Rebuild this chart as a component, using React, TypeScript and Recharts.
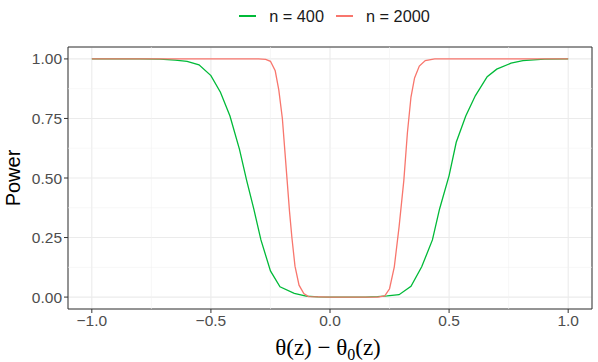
import {
  LineChart,
  Line,
  XAxis,
  YAxis,
  CartesianGrid,
  ReferenceLine,
  ReferenceArea,
  Label,
} from "recharts";

const xTicks = [-1, -0.5, 0, 0.5, 1];
const yTicks = [0, 0.25, 0.5, 0.75, 1];
const xMinor = [-0.75, -0.25, 0.25, 0.75];
const yMinor = [0.125, 0.375, 0.625, 0.875];

// n = 400
const x400 = [
  -1, -0.8, -0.714, -0.65, -0.6, -0.55, -0.5, -0.46, -0.42, -0.38, -0.35,
  -0.32, -0.29, -0.25, -0.21, -0.15, -0.1, -0.05, 0, 0.05, 0.1, 0.15, 0.2,
  0.24, 0.29, 0.34, 0.385, 0.43, 0.46, 0.5, 0.53, 0.57, 0.61, 0.66, 0.7,
  0.76, 0.81, 0.9, 1,
];
const power400 = [
  1, 1, 0.999, 0.995, 0.99, 0.975, 0.93, 0.86, 0.76, 0.62, 0.49, 0.37, 0.24,
  0.11, 0.043, 0.016, 0.004, 0.001, 0, 0, 0, 0, 0.002, 0.005, 0.01, 0.045,
  0.127, 0.24, 0.37, 0.51, 0.65, 0.76, 0.845, 0.925, 0.957, 0.982, 0.993,
  0.999, 1,
];

// n = 2000
const x2000 = [
  -1, -0.3, -0.27, -0.25, -0.23, -0.215, -0.2, -0.19, -0.18, -0.17, -0.16,
  -0.147, -0.13, -0.11, -0.09, 0, 0.2, 0.23, 0.25, 0.27, 0.29, 0.31, 0.325,
  0.34, 0.355, 0.375, 0.4, 0.44, 1,
];
const power2000 = [
  1, 1, 0.998, 0.99, 0.95, 0.87, 0.75, 0.62, 0.49, 0.36, 0.25, 0.13, 0.05,
  0.015, 0.002, 0, 0, 0.005, 0.035, 0.127, 0.295, 0.49, 0.69, 0.84, 0.92,
  0.97, 0.993, 1, 1,
];

const series = [
  { name: "n = 400", color: "#00BA38", xs: x400, ys: power400 },
  { name: "n = 2000", color: "#F8766D", xs: x2000, ys: power2000 },
];

const FONT = '"Liberation Sans", Arial, Helvetica, sans-serif';
const fmt = (v: number) => (v < 0 ? "\u2212" + Math.abs(v).toFixed(1) : v.toFixed(1));

function LegendRow() {
  return (
    <div
      style={{
        position: "absolute",
        left: 0,
        top: 5,
        width: 598,
        display: "flex",
        justifyContent: "center",
        paddingLeft: 83,
        boxSizing: "border-box",
        fontFamily: FONT,
        fontSize: 16.3,
        color: "#1A1A1A",
        lineHeight: "22px",
      }}
    >
      {series.map((s) => (
        <div key={s.name} style={{ display: "flex", alignItems: "center", marginRight: 12 }}>
          <div style={{ width: 17, height: 1.5, background: s.color, marginRight: 13, marginLeft: 0 }} />
          <span>{s.name}</span>
        </div>
      ))}
    </div>
  );
}

export default function App() {
  return (
    <div style={{ position: "absolute", left: 0, top: 0, width: 598, height: 362, background: "#fff" }}>
      <LegendRow />
      <LineChart
        width={598}
        height={362}
        margin={{ top: 47, right: 6, bottom: 0, left: 0 }}
        style={{ fontFamily: FONT }}
      >
        <CartesianGrid stroke="#EBEBEB" strokeWidth={1.1} />
        {xMinor.map((v) => (
          <ReferenceLine key={`xm${v}`} x={v} stroke="#F2F2F2" strokeWidth={0.6} />
        ))}
        {yMinor.map((v) => (
          <ReferenceLine key={`ym${v}`} y={v} stroke="#F2F2F2" strokeWidth={0.6} />
        ))}
        <XAxis
          dataKey="x"
          type="number"
          domain={[-1.1, 1.1]}
          ticks={xTicks}
          tickFormatter={fmt}
          allowDataOverflow
          axisLine={false}
          tickSize={4}
          tickMargin={2}
          tickLine={{ stroke: "#333333" }}
          tick={{ fill: "#4D4D4D", fontSize: 15.5 }}
          height={53}
        >
          <Label
            content={() => (
              <text
                x={328}
                y={355}
                textAnchor="middle"
                fontFamily='"Liberation Serif", "DejaVu Serif", serif'
                fontSize={23}
                fill="#000"
              >
                θ(z) − θ
                <tspan fontSize={16} dy={5}>0</tspan>
                <tspan dy={-5}>(z)</tspan>
              </text>
            )}
          />
        </XAxis>
        <YAxis
          type="number"
          domain={[-0.05, 1.05]}
          ticks={yTicks}
          tickFormatter={(v: number) => v.toFixed(2)}
          allowDataOverflow
          axisLine={false}
          tickSize={4}
          tickMargin={2}
          tickLine={{ stroke: "#333333" }}
          tick={{ fill: "#4D4D4D", fontSize: 15.5 }}
          width={68}
        >
          <Label
            content={() => (
              <text
                x={20}
                y={178}
                textAnchor="middle"
                transform="rotate(-90 20 178)"
                fontSize={20}
                fill="#000"
              >
                Power
              </text>
            )}
          />
        </YAxis>
        {series.map((s) => (
          <Line
            key={s.name}
            data={s.xs.map((x, i) => ({ x, power: s.ys[i] }))}
            dataKey="power"
            name={s.name}
            type="linear"
            stroke={s.color}
            strokeWidth={1.3}
            dot={false}
            activeDot={false}
            isAnimationActive={false}
          />
        ))}
        <ReferenceArea
          x1={-1.1}
          x2={1.1}
          y1={-0.05}
          y2={1.05}
          fill="none"
          stroke="#333333"
          strokeWidth={1}
        />
      </LineChart>
    </div>
  );
}
